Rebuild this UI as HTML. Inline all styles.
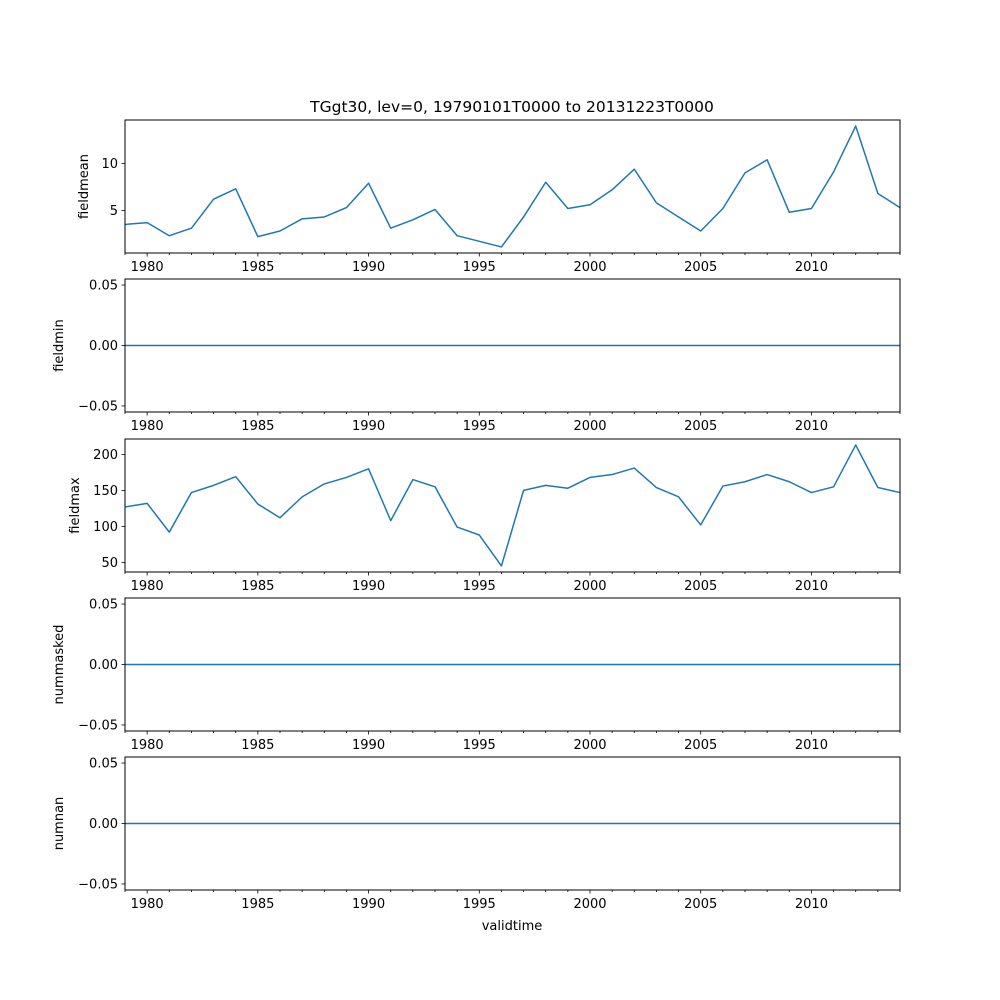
<!DOCTYPE html>
<html><head><meta charset="utf-8"><style>
html,body{margin:0;padding:0;background:#fff}
svg{display:block;font-family:"DejaVu Sans","Liberation Sans",sans-serif}
</style></head><body>
<svg id="fig" width="1000" height="1000" viewBox="0 0 1000 1000">
<text x="512" y="112" text-anchor="middle" font-size="15.5">TGgt30, lev=0, 19790101T0000 to 20131223T0000</text>
<text x="512" y="930" text-anchor="middle" font-size="13">validtime</text>
</svg>
<script>
const years = [1979,1980,1981,1982,1983,1984,1985,1986,1987,1988,1989,1990,1991,1992,1993,1994,1995,1996,1997,1998,1999,2000,2001,2002,2003,2004,2005,2006,2007,2008,2009,2010,2011,2012,2013,2014];
const fieldmean = [3.5,3.7,2.3,3.1,6.2,7.3,2.2,2.8,4.1,4.3,5.3,7.9,3.1,4.0,5.1,2.3,1.7,1.1,4.3,8.0,5.2,5.6,7.2,9.4,5.8,4.3,2.8,5.2,9.0,10.4,4.8,5.2,9.1,14.0,6.8,5.3];
const fieldmin = years.map(()=>0);
const fieldmax = [127,132,92,147,157,169,131,112,141,159,168,180,108,165,155,99,88,45,150,157,153,168,172,181,154,141,102,156,162,172,162,147,155,213,154,147];
const nummasked = years.map(()=>0);
const numnan = years.map(()=>0);
const xTicks = [1980,1985,1990,1995,2000,2005,2010];
const panels = [
  {name:'fieldmean', vals:fieldmean, top:120, ymin:0.455, ymax:14.645, ticks:[5,10], labels:['5','10'], lx:88},
  {name:'fieldmin', vals:fieldmin, top:279, ymin:-0.055, ymax:0.055, ticks:[-0.05,0,0.05], labels:['\u22120.05','0.00','0.05'], lx:63},
  {name:'fieldmax', vals:fieldmax, top:439, ymin:36.6, ymax:221.4, ticks:[50,100,150,200], labels:['50','100','150','200'], lx:79},
  {name:'nummasked', vals:nummasked, top:598, ymin:-0.055, ymax:0.055, ticks:[-0.05,0,0.05], labels:['\u22120.05','0.00','0.05'], lx:63},
  {name:'numnan', vals:numnan, top:757, ymin:-0.055, ymax:0.055, ticks:[-0.05,0,0.05], labels:['\u22120.05','0.00','0.05'], lx:63}
];
const NS='http://www.w3.org/2000/svg', svg=document.getElementById('fig');
const L=125,R=900,H=133;
const xs=v=>L+(v-1979)*(R-L)/(2014-1979);
function mk(t,a,p){const e=document.createElementNS(NS,t);for(const k in a)e.setAttribute(k,a[k]);(p||svg).appendChild(e);return e;}
panels.forEach(p=>{
  const g=mk('g',{});
  
  
  const ys=v=>p.top+H-(v-p.ymin)/(p.ymax-p.ymin)*H;
  const pts=p.vals.map((v,i)=>xs(years[i]).toFixed(2)+','+ys(v).toFixed(2)).join(' ');
  const line=mk('polyline',{points:pts,fill:'none',stroke:'#1f77b4','stroke-width':1.5,'stroke-linejoin':'round'},g);
  
  
  const fr=mk('rect',{x:L,y:p.top,width:R-L,height:H,fill:'none',stroke:'#000','stroke-width':1},g);
  
  
  const b=p.top+H;
  for(let y=1979;y<=2014;y++){
    const maj=xTicks.includes(y);
    mk('line',{x1:xs(y),x2:xs(y),y1:b,y2:b+(maj?3.5:2),stroke:'#000','stroke-width':0.8},g);
  }
  xTicks.forEach(y=>{
    const t=mk('text',{x:xs(y),y:b+18,'text-anchor':'middle','font-size':13},g);
    t.textContent=y;
    
    
  });
  p.ticks.forEach((v,i)=>{
    const yy=ys(v);
    mk('line',{x1:L-3.5,x2:L,y1:yy,y2:yy,stroke:'#000','stroke-width':0.8},g);
    const t=mk('text',{x:L-7,y:yy+4.5,'text-anchor':'end','font-size':13},g);
    t.textContent=p.labels[i];
    
    
  });
  const cy=p.top+H/2;
  const yl=mk('text',{x:p.lx,y:cy,'text-anchor':'middle','font-size':13,transform:`rotate(-90 ${p.lx} ${cy})`},g);
  yl.textContent=p.name;
  
  
});
</script>
</body></html>
